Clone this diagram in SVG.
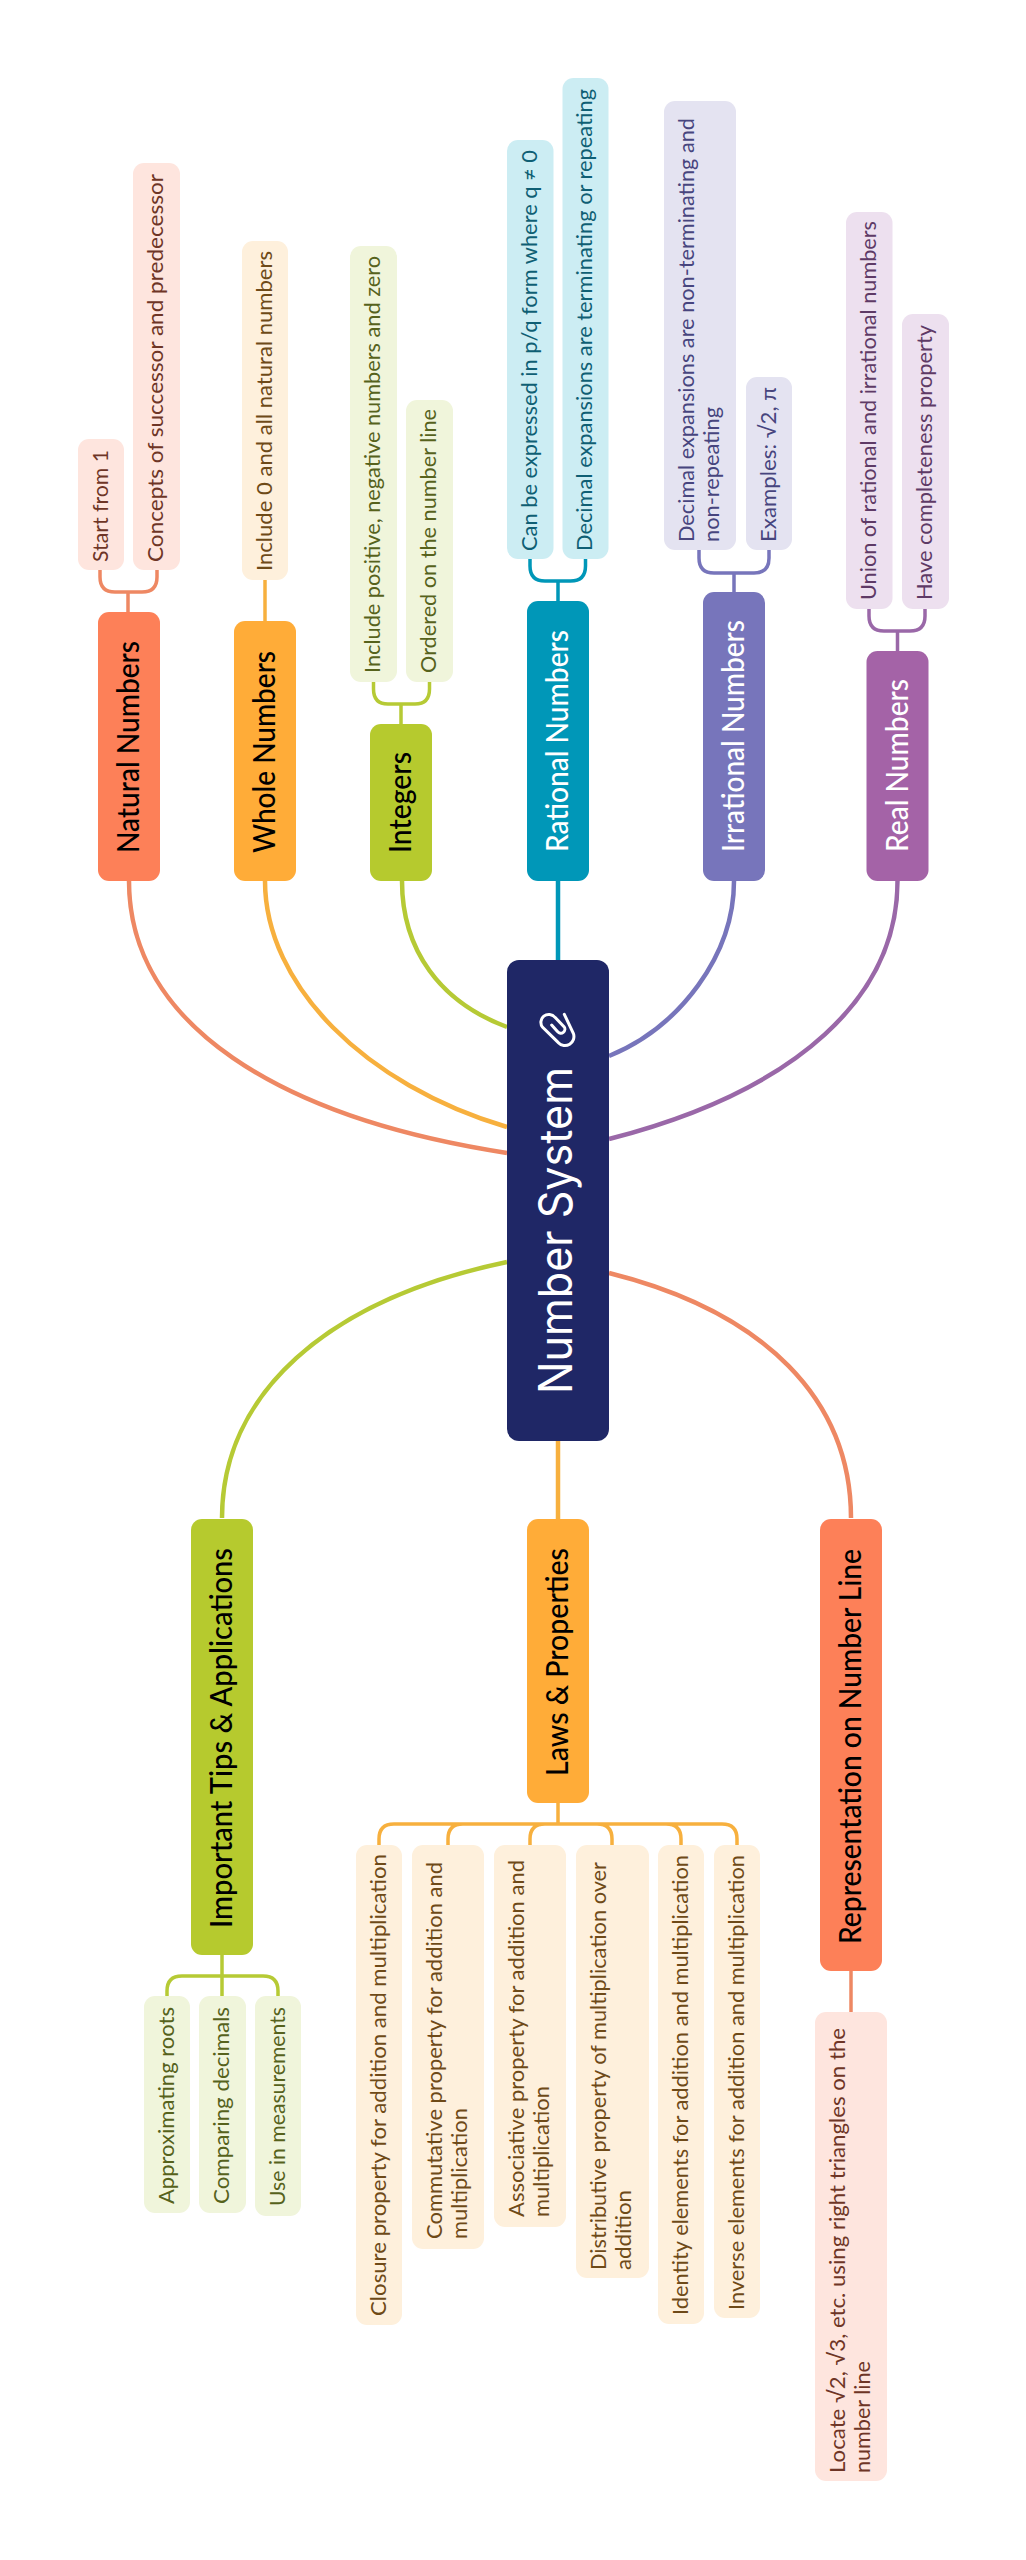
<svg xmlns="http://www.w3.org/2000/svg" width="1026" height="2560" viewBox="0 0 1026 2560">
<style>
text{font-family:"Lato","Noto Sans","Liberation Sans",sans-serif;text-anchor:start}
.t1{font-size:30px;font-weight:500}.t2{font-size:22px}
.c{font-size:46px;fill:#fff;font-family:"Inter","Noto Sans",sans-serif}
.l{fill:none;stroke-width:4.500;stroke-linecap:butt}
.b{fill:none;stroke-width:3.500}
.red{fill:#FD8058}.org{fill:#FFAC38}.grn{fill:#B6CA2E}.tea{fill:#0097B8}.ind{fill:#7775BB}.pur{fill:#A463A7}
.rb{fill:#FEE5DE}.ob{fill:#FEF0DC}.gb{fill:#F0F5DB}.tb{fill:#CCEDF3}.ib{fill:#E4E3F1}.pb{fill:#EDE0EF}
.rt{fill:#6E3526}.ot{fill:#6E4A18}.gt{fill:#56621C}.tt{fill:#0F5F74}.it{fill:#47457E}.pt{fill:#5E3A66}
.dk{fill:#000}.wh{fill:#fff}
.sr{stroke:#EE8863}.so{stroke:#F7B03E}.sg{stroke:#B6CA35}.st{stroke:#0097B8}.si{stroke:#7775BB}.sp{stroke:#9A68A8}
</style>
<g id="connectors">
<path class="l sr" d="M129 881C129 1025 280 1118 507 1153"/>
<path class="l so" d="M265 881C265 985 365 1085 507 1127"/>
<path class="l sg" d="M402 881C402 950 440 1002 507 1027"/>
<path class="l st" d="M558 881V960"/>
<path class="l si" d="M734 881C734 955 680 1027 609 1056"/>
<path class="l sp" d="M897.500 881C897.500 995 800 1090 609 1139"/>
<path class="l sg" d="M507 1262C325 1300 222 1395 222 1518"/>
<path class="l so" d="M558 1441V1519"/>
<path class="l sr" d="M609 1273C765 1312 851 1400 851 1518"/>
<path class="b sr" d="M100 570V577Q100 592 115 592H142Q157 592 157 577V570M128 592V612"/>
<path class="b so" d="M265 580V621"/>
<path class="b sg" d="M373.500 682V689Q373.500 704 388 704H415Q429.500 704 429.500 689V682M401 704V724"/>
<path class="b st" d="M530 559V566Q530 581 545 581H570.500Q585.500 581 585.500 566V559M558 581V601"/>
<path class="b si" d="M699 550V558Q699 573 714 573H754Q769 573 769 558V550M734 573V592"/>
<path class="b sp" d="M869 609V616Q869 631 884 631H910Q925 631 925 616V609M897.500 631V651"/>
<path class="b sg" d="M167 1996V1991Q167 1976 182 1976H263Q278 1976 278 1991V1996M222 1955V1996"/>
<path class="b so" d="M558 1803V1823M379 1845V1839Q379 1824 394 1824H722Q737 1824 737 1839V1845M448 1845V1839Q448 1824 463 1824M530 1845V1839Q530 1824 545 1824M597 1824Q612 1824 612 1839V1845M666 1824Q681 1824 681 1839V1845"/>
<path class="b sr" d="M851 1971V2012"/>
</g>
<g id="root">
<rect x="507" y="960" width="102" height="481" rx="12" fill="#1F2766"/>
<text class="c" transform="translate(572 1394) rotate(-90)" textLength="327" lengthAdjust="spacingAndGlyphs">Number System</text>
<path d="M95 90L113 110A12 12 0 0 0 132 95L105 67A22 22 0 0 0 68 97L115 143A27 27 0 0 0 160 115L133 58" transform="translate(520 995) scale(.3333)" fill="none" stroke="#fff" stroke-width="9" stroke-linecap="round"/>
</g>
<g id="natural"><rect class="red" x="98" y="612" width="62" height="269" rx="11"/><text class="t1 dk" transform="translate(139 853) rotate(-90)" textLength="212" lengthAdjust="spacingAndGlyphs">Natural Numbers</text></g>
<g id="natural-1"><rect class="rb" x="78" y="439" width="46" height="131" rx="11"/><text class="t2 rt" transform="translate(107.500 562) rotate(-90)" textLength="112" lengthAdjust="spacingAndGlyphs">Start from 1</text></g>
<g id="natural-2"><rect class="rb" x="133" y="163" width="47" height="407" rx="11"/><text class="t2 rt" transform="translate(163 562) rotate(-90)" textLength="388" lengthAdjust="spacingAndGlyphs">Concepts of successor and predecessor</text></g>
<g id="whole"><rect class="org" x="234" y="621" width="62" height="260" rx="11"/><text class="t1 dk" transform="translate(275 853) rotate(-90)" textLength="202" lengthAdjust="spacingAndGlyphs">Whole Numbers</text></g>
<g id="whole-1"><rect class="ob" x="242" y="241" width="46" height="339" rx="11"/><text class="t2 ot" transform="translate(271.500 571) rotate(-90)" textLength="320" lengthAdjust="spacingAndGlyphs">Include 0 and all natural numbers</text></g>
<g id="integers"><rect class="grn" x="370" y="724" width="62" height="157" rx="11"/><text class="t1 dk" transform="translate(411 853) rotate(-90)" textLength="101" lengthAdjust="spacingAndGlyphs">Integers</text></g>
<g id="integers-1"><rect class="gb" x="350" y="246" width="47" height="436" rx="11"/><text class="t2 gt" transform="translate(380 673) rotate(-90)" textLength="417" lengthAdjust="spacingAndGlyphs">Include positive, negative numbers and zero</text></g>
<g id="integers-2"><rect class="gb" x="406" y="400" width="47" height="282" rx="11"/><text class="t2 gt" transform="translate(436 673) rotate(-90)" textLength="264" lengthAdjust="spacingAndGlyphs">Ordered on the number line</text></g>
<g id="rational"><rect class="tea" x="527" y="601" width="62" height="280" rx="11"/><text class="t1 wh" transform="translate(568 852) rotate(-90)" textLength="222" lengthAdjust="spacingAndGlyphs">Rational Numbers</text></g>
<g id="rational-1"><rect class="tb" x="507" y="140" width="46.500" height="419" rx="11"/><text class="t2 tt" transform="translate(536.500 551) rotate(-90)" textLength="401" lengthAdjust="spacingAndGlyphs">Can be expressed in p/q form where q ≠ 0</text></g>
<g id="rational-2"><rect class="tb" x="562.500" y="78" width="46" height="481" rx="11"/><text class="t2 tt" transform="translate(592 551) rotate(-90)" textLength="462" lengthAdjust="spacingAndGlyphs">Decimal expansions are terminating or repeating</text></g>
<g id="irrational"><rect class="ind" x="703" y="592" width="62" height="289" rx="11"/><text class="t1 wh" transform="translate(744 852) rotate(-90)" textLength="232" lengthAdjust="spacingAndGlyphs">Irrational Numbers</text></g>
<g id="irrational-1"><rect class="ib" x="664" y="101" width="72" height="449" rx="11"/><text class="t2 it" transform="translate(693.500 542) rotate(-90)" textLength="424" lengthAdjust="spacingAndGlyphs">Decimal expansions are non-terminating and</text><text class="t2 it" transform="translate(718.500 542) rotate(-90)" textLength="135" lengthAdjust="spacingAndGlyphs">non-repeating</text></g>
<g id="irrational-2"><rect class="ib" x="746" y="377" width="46" height="173" rx="11"/><text class="t2 it" transform="translate(775.500 542) rotate(-90)" textLength="155" lengthAdjust="spacingAndGlyphs">Examples: √2, π</text></g>
<g id="real"><rect class="pur" x="866.500" y="651" width="62" height="230" rx="11"/><text class="t1 wh" transform="translate(907.500 852) rotate(-90)" textLength="173" lengthAdjust="spacingAndGlyphs">Real Numbers</text></g>
<g id="real-1"><rect class="pb" x="846" y="212" width="46.500" height="397" rx="11"/><text class="t2 pt" transform="translate(875.500 600) rotate(-90)" textLength="379" lengthAdjust="spacingAndGlyphs">Union of rational and irrational numbers</text></g>
<g id="real-2"><rect class="pb" x="902" y="314" width="47" height="295" rx="11"/><text class="t2 pt" transform="translate(931.500 600) rotate(-90)" textLength="275" lengthAdjust="spacingAndGlyphs">Have completeness property</text></g>
<g id="tips"><rect class="grn" x="191" y="1519" width="62" height="436" rx="11"/><text class="t1 dk" transform="translate(232 1928) rotate(-90)" textLength="380" lengthAdjust="spacingAndGlyphs">Important Tips &amp; Applications</text></g>
<g id="tips-1"><rect class="gb" x="144" y="1996" width="46" height="217" rx="11"/><text class="t2 gt" transform="translate(173.500 2204) rotate(-90)" textLength="197" lengthAdjust="spacingAndGlyphs">Approximating roots</text></g>
<g id="tips-2"><rect class="gb" x="199" y="1996" width="47" height="217" rx="11"/><text class="t2 gt" transform="translate(229 2204) rotate(-90)" textLength="197" lengthAdjust="spacingAndGlyphs">Comparing decimals</text></g>
<g id="tips-3"><rect class="gb" x="255" y="1996" width="46" height="220" rx="11"/><text class="t2 gt" transform="translate(284.500 2206) rotate(-90)" textLength="199" lengthAdjust="spacingAndGlyphs">Use in measurements</text></g>
<g id="laws"><rect class="org" x="527" y="1519" width="62" height="284" rx="11"/><text class="t1 dk" transform="translate(568 1776) rotate(-90)" textLength="228" lengthAdjust="spacingAndGlyphs">Laws &amp; Properties</text></g>
<g id="laws-1"><rect class="ob" x="356" y="1845" width="46" height="480" rx="11"/><text class="t2 ot" transform="translate(385.500 2316) rotate(-90)" textLength="462" lengthAdjust="spacingAndGlyphs">Closure property for addition and multiplication</text></g>
<g id="laws-2"><rect class="ob" x="412" y="1845" width="72" height="404" rx="11"/><text class="t2 ot" transform="translate(441.500 2239) rotate(-90)" textLength="377" lengthAdjust="spacingAndGlyphs">Commutative property for addition and</text><text class="t2 ot" transform="translate(466.500 2239) rotate(-90)" textLength="131" lengthAdjust="spacingAndGlyphs">multiplication</text></g>
<g id="laws-3"><rect class="ob" x="494" y="1845" width="72" height="382" rx="11"/><text class="t2 ot" transform="translate(523.500 2217) rotate(-90)" textLength="357" lengthAdjust="spacingAndGlyphs">Associative property for addition and</text><text class="t2 ot" transform="translate(548.500 2217) rotate(-90)" textLength="131" lengthAdjust="spacingAndGlyphs">multiplication</text></g>
<g id="laws-4"><rect class="ob" x="576" y="1845" width="73" height="433" rx="11"/><text class="t2 ot" transform="translate(606 2270) rotate(-90)" textLength="408" lengthAdjust="spacingAndGlyphs">Distributive property of multiplication over</text><text class="t2 ot" transform="translate(631 2270) rotate(-90)" textLength="80" lengthAdjust="spacingAndGlyphs">addition</text></g>
<g id="laws-5"><rect class="ob" x="658" y="1845" width="46" height="479" rx="11"/><text class="t2 ot" transform="translate(687.500 2315) rotate(-90)" textLength="460" lengthAdjust="spacingAndGlyphs">Identity elements for addition and multiplication</text></g>
<g id="laws-6"><rect class="ob" x="714" y="1845" width="46" height="473" rx="11"/><text class="t2 ot" transform="translate(743.500 2310) rotate(-90)" textLength="455" lengthAdjust="spacingAndGlyphs">Inverse elements for addition and multiplication</text></g>
<g id="rep"><rect class="red" x="820" y="1519" width="62" height="452" rx="11"/><text class="t1 dk" transform="translate(861 1944) rotate(-90)" textLength="395" lengthAdjust="spacingAndGlyphs">Representation on Number Line</text></g>
<g id="rep-1"><rect class="rb" x="815" y="2012" width="72" height="469" rx="11"/><text class="t2 rt" transform="translate(844.500 2473) rotate(-90)" textLength="445" lengthAdjust="spacingAndGlyphs">Locate √2, √3, etc. using right triangles on the</text><text class="t2 rt" transform="translate(869.500 2473) rotate(-90)" textLength="112" lengthAdjust="spacingAndGlyphs">number line</text></g>
</svg>
